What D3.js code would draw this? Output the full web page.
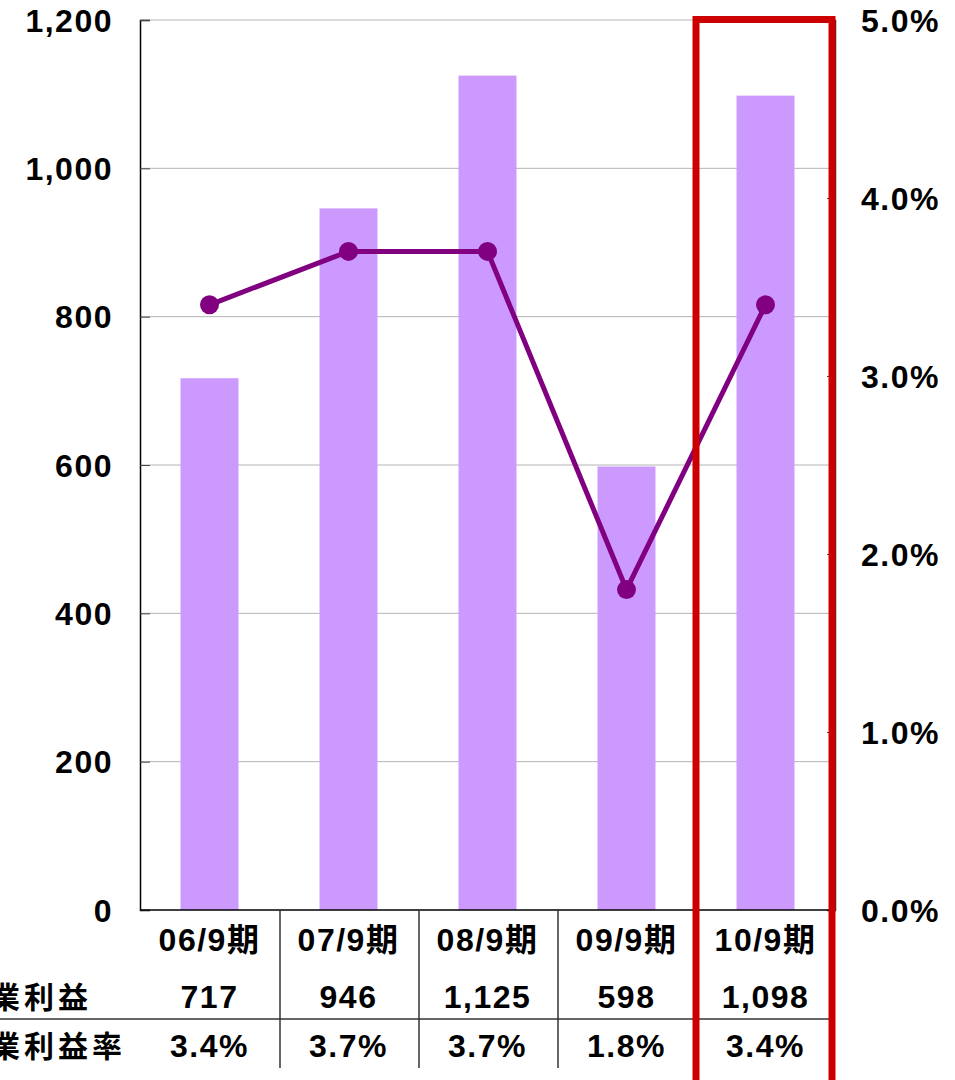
<!DOCTYPE html>
<html>
  <head>
    <meta charset="utf-8" />
    <script src="https://d3js.org/d3.v7.min.js"></script>
    <style>
      body {
        margin: 0;
        background: #ffffff;
        font-family: "Liberation Sans", Arial, "Noto Sans CJK JP", sans-serif;
      }
    </style>
    <title>営業利益</title>
  </head>
  <body>
    <svg id="chart" width="955" height="1080"></svg>
    <script>
      var categories = ["06/9期", "07/9期", "08/9期", "09/9期", "10/9期"];
      var profit = [717, 946, 1125, 598, 1098];
      var profitRate = [0.034, 0.037, 0.037, 0.018, 0.034];
      var leftTicks = [0, 200, 400, 600, 800, 1000, 1200];
      var rightTicks = [0, 0.01, 0.02, 0.03, 0.04, 0.05];
      var rowLabels = ["営業利益", "営業利益率"];

      var svg = d3.select("#chart");
      var plotLeft = 140,
        plotRight = 835,
        plotTop = 20,
        plotBottom = 910;

      var x = d3.scaleBand().domain(categories).range([plotLeft, plotRight]);
      var yL = d3.scaleLinear().domain([0, 1200]).range([plotBottom, plotTop]);
      var yR = d3.scaleLinear().domain([0, 0.05]).range([plotBottom, plotTop]);

      var font = '"Liberation Sans", Arial, "Noto Sans CJK JP", sans-serif';
      var mid = (i) => x(categories[i]) + x.bandwidth() / 2;

      // grid
      svg
        .append("g")
        .selectAll("line")
        .data(leftTicks.slice(1))
        .enter()
        .append("line")
        .attr("x1", plotLeft)
        .attr("x2", plotRight)
        .attr("y1", (d) => yL(d))
        .attr("y2", (d) => yL(d))
        .attr("stroke", "#b4b4b4")
        .attr("stroke-width", 1);

      // bars
      var barW = x.bandwidth() * 0.417;
      svg
        .append("g")
        .selectAll("rect")
        .data(profit)
        .enter()
        .append("rect")
        .attr("x", (d, i) => mid(i) - barW / 2)
        .attr("y", (d) => yL(d))
        .attr("width", barW)
        .attr("height", (d) => plotBottom - yL(d))
        .attr("fill", "#cc99ff");

      // left axis
      var axL = svg
        .append("g")
        .attr("transform", "translate(" + plotLeft + ",0)")
        .call(d3.axisRight(yL).tickValues(leftTicks).tickSize(10).tickFormat(""));
      axL.select(".domain").attr("stroke", "#000").attr("stroke-width", 1.5);
      axL.selectAll("line").attr("stroke", "#444");

      svg
        .append("g")
        .selectAll("text")
        .data(leftTicks)
        .enter()
        .append("text")
        .attr("x", 113)
        .attr("y", (d) => yL(d))
        .attr("dy", "0.36em")
        .attr("text-anchor", "end")
        .style("font-family", font)
        .style("font-weight", "bold")
        .style("font-size", "32px")
        .style("letter-spacing", "1.5px")
        .text((d) => d3.format(",")(d));

      // right axis
      var axR = svg
        .append("g")
        .attr("transform", "translate(" + plotRight + ",0)")
        .call(d3.axisLeft(yR).tickValues(rightTicks).tickSize(8).tickFormat(""));
      axR.select(".domain").attr("stroke", "#333").attr("stroke-width", 1.5);
      axR.selectAll("line").attr("stroke", "#444");

      svg
        .append("g")
        .selectAll("text")
        .data(rightTicks)
        .enter()
        .append("text")
        .attr("x", 861)
        .attr("y", (d) => yR(d))
        .attr("dy", "0.36em")
        .attr("text-anchor", "start")
        .style("font-family", font)
        .style("font-weight", "bold")
        .style("font-size", "32px")
        .style("letter-spacing", "1.5px")
        .text((d) => d3.format(".1%")(d));

      // bottom axis line
      svg
        .append("line")
        .attr("x1", plotLeft)
        .attr("x2", plotRight)
        .attr("y1", plotBottom)
        .attr("y2", plotBottom)
        .attr("stroke", "#000")
        .attr("stroke-width", 1.5);

      // line series
      var line = d3
        .line()
        .x((d, i) => mid(i))
        .y((d) => yR(d));

      svg
        .append("path")
        .attr("d", line(profitRate))
        .attr("fill", "none")
        .attr("stroke", "#800080")
        .attr("stroke-width", 5);

      svg
        .append("g")
        .selectAll("circle")
        .data(profitRate)
        .enter()
        .append("circle")
        .attr("cx", (d, i) => mid(i))
        .attr("cy", (d) => yR(d))
        .attr("r", 9.5)
        .attr("fill", "#800080");

      // data table
      var table = svg.append("g");
      var rowY = [951, 1008, 1057];

      table
        .selectAll("line.v")
        .data(categories.slice(1))
        .enter()
        .append("line")
        .attr("x1", (d) => x(d) + 1)
        .attr("x2", (d) => x(d) + 1)
        .attr("y1", plotBottom)
        .attr("y2", 1068)
        .attr("stroke", "#333")
        .attr("stroke-width", 1.5);

      table
        .append("line")
        .attr("x1", 0)
        .attr("x2", plotRight)
        .attr("y1", 1019)
        .attr("y2", 1019)
        .attr("stroke", "#333")
        .attr("stroke-width", 1.5);

      var cellStyle = function (sel) {
        sel
          .attr("text-anchor", "middle")
          .style("font-family", font)
          .style("font-weight", "bold")
          .style("font-size", "32px")
          .style("letter-spacing", "1.5px");
      };

      table
        .selectAll("text.cat")
        .data(categories)
        .enter()
        .append("text")
        .attr("x", (d, i) => mid(i))
        .attr("y", rowY[0])
        .call(cellStyle)
        .text((d) => d);

      table
        .selectAll("text.val")
        .data(profit)
        .enter()
        .append("text")
        .attr("x", (d, i) => mid(i))
        .attr("y", rowY[1])
        .call(cellStyle)
        .text((d) => d3.format(",")(d));

      table
        .selectAll("text.rate")
        .data(profitRate)
        .enter()
        .append("text")
        .attr("x", (d, i) => mid(i))
        .attr("y", rowY[2])
        .call(cellStyle)
        .text((d) => d3.format(".1%")(d));

      table
        .selectAll("text.row")
        .data(rowLabels)
        .enter()
        .append("text")
        .attr("x", -44)
        .attr("y", (d, i) => rowY[i + 1])
        .attr("text-anchor", "start")
        .style("font-family", font)
        .style("font-weight", "bold")
        .style("font-size", "30px")
        .style("letter-spacing", "4px")
        .text((d) => d);

      // highlight box on the latest period
      var last = categories[categories.length - 1];
      svg
        .append("rect")
        .attr("x", x(last))
        .attr("y", plotTop - 0.5)
        .attr("width", x.bandwidth() - 3)
        .attr("height", 1100)
        .attr("fill", "none")
        .attr("stroke", "#cc0000")
        .attr("stroke-width", 7);
    </script>
  </body>
</html>
